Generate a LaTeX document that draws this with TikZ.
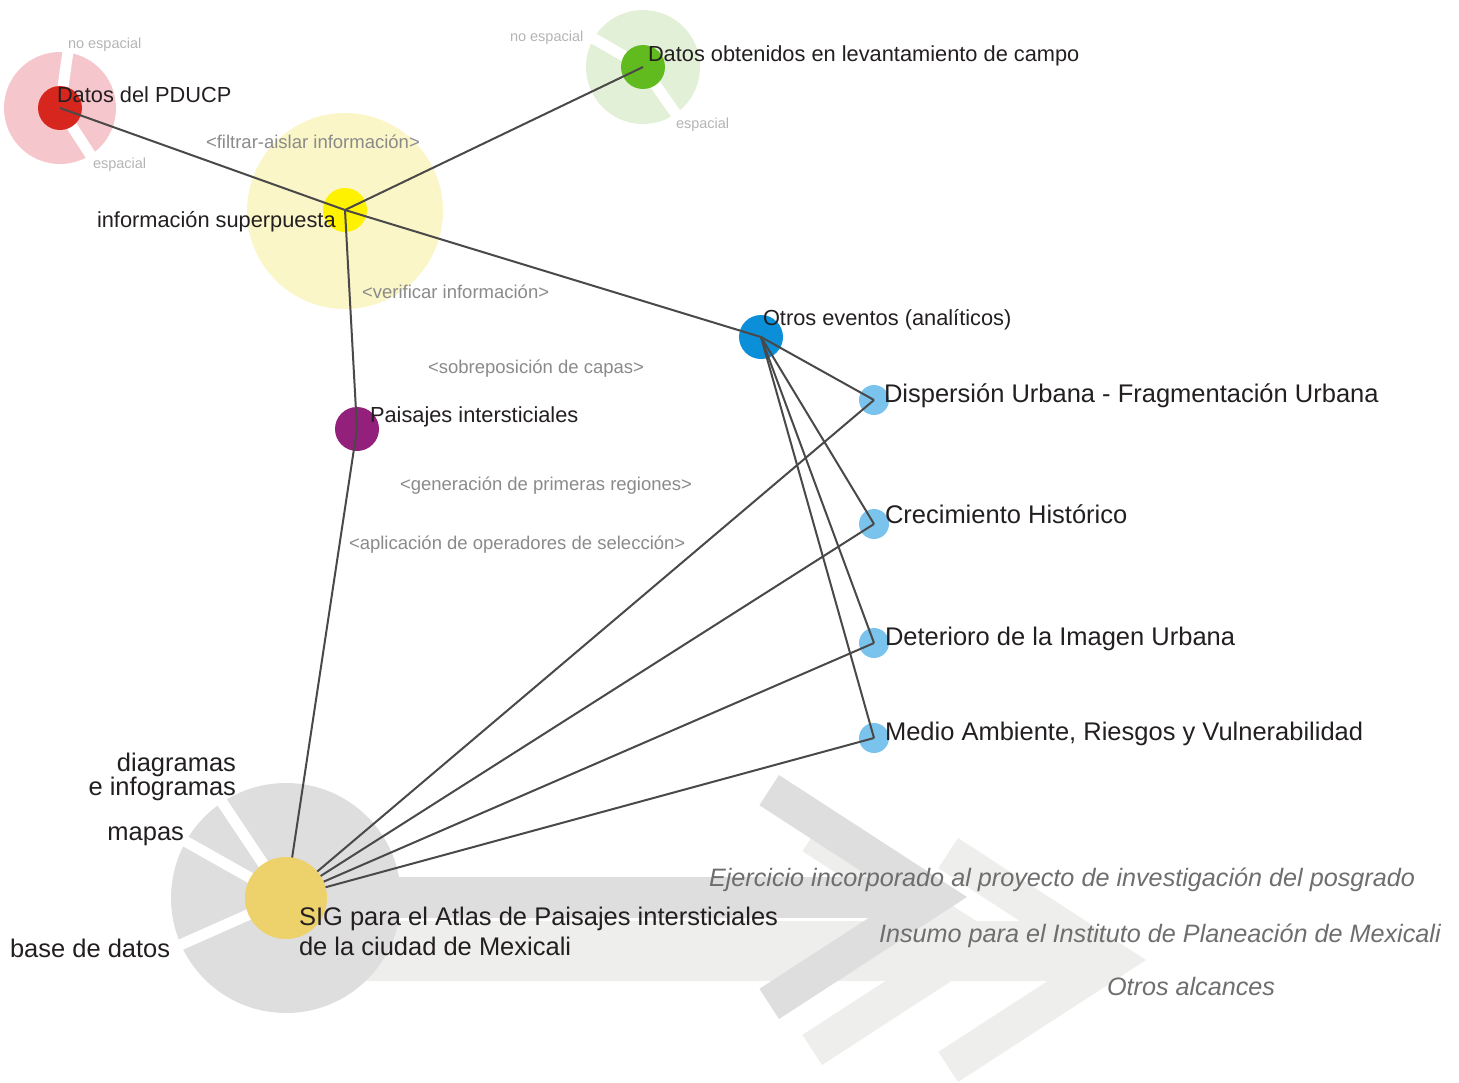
\documentclass[tikz,border=0pt]{standalone}
\usepackage{fontspec}
\setmainfont{Liberation Sans}

\definecolor{ink}{HTML}{231F20}
\definecolor{linkgray}{HTML}{4A4848}
\definecolor{opgray}{HTML}{8A8A8A}
\definecolor{taggray}{HTML}{B4B4B4}
\definecolor{goalgray}{HTML}{6E6E6E}
\definecolor{pducpred}{HTML}{D7261E}
\definecolor{pducpring}{HTML}{F5C6CC}
\definecolor{campogreen}{HTML}{62BB1E}
\definecolor{camporing}{HTML}{E3F0D8}
\definecolor{infoyellow}{HTML}{FFF200}
\definecolor{inforing}{HTML}{FBF6C8}
\definecolor{otrosblue}{HTML}{0A8FD8}
\definecolor{leafblue}{HTML}{7AC3EC}
\definecolor{paisajespurple}{HTML}{93207A}
\definecolor{sigyellow}{HTML}{EDD16B}
\definecolor{sigring}{HTML}{DEDEDE}
\definecolor{band}{HTML}{EEEEEC}

\pgfdeclarelayer{back}
\pgfdeclarelayer{links}
\pgfsetlayers{back,links,main}

% chevron: x of the outer corners, y of the tip, colour
\newcommand{\chevron}[3]{%
  \fill[#3] (#1,#2-122) -- ++(188,122) -- (#1,#2+122) -- ++(-19.6,-30.2)
    -- (#1+122,#2) -- (#1-19.6,#2-91.8) -- cycle;}

\begin{document}
\begin{tikzpicture}[x=1pt,y=-1pt,
  every node/.style={inner sep=0pt,outer sep=0pt},
  every edge/.style={draw=linkgray,line width=2pt},
  hub/.style={circle,minimum size=44pt},
  leaf/.style={circle,fill=leafblue,minimum size=30pt},
  gap/.style={draw=white,line width=11pt},
  hubtext/.style={font=\fontsize{21.8}{24}\selectfont,text=ink,anchor=base west},
  topic/.style={font=\fontsize{25.5}{30}\selectfont,text=ink,anchor=base west},
  oplabel/.style={font=\fontsize{18.5}{22}\selectfont,text=opgray,anchor=base west},
  tag/.style={font=\fontsize{14.5}{17}\selectfont,text=taggray,anchor=base west},
  goal/.style={font=\itshape\fontsize{25.2}{30}\selectfont,text=goalgray,anchor=base west}]

  \useasboundingbox (0,0) rectangle (1459,1082);

  \begin{pgfonlayer}{back}
    % arrows towards the scopes
    \fill[band] (300,921) rectangle (1084,981);
    \chevron{822}{943}{band}
    \chevron{958}{960}{band}
    \fill[sigring] (300,877) rectangle (905,918);
    \chevron{779}{897}{sigring}

    % rings
    \fill[sigring] (286,898) circle (115pt);
    \draw[gap] (286,898) -- (221.6,801.5);
    \draw[gap] (286,898) -- (185,841.1);
    \draw[gap] (286,898) -- (180,945);
    \fill[pducpring] (60,108) circle (56pt);
    \draw[gap] (60,108) -- (68.4,48.6);
    \draw[gap] (60,108) -- (92.7,158.3);
    \fill[camporing] (643,67) circle (57pt);
    \draw[gap] (643,67) -- (591,37);
    \draw[gap] (643,67) -- (677.4,116);
    \fill[inforing] (345,211) circle (98pt);

    \node[hub,fill=pducpred] (pducp) at (60,108) {};
    \node[hub,fill=campogreen] (campo) at (643,67) {};
    \node[hub,fill=infoyellow] (info) at (345,210) {};
    \node[hub,fill=otrosblue] (otros) at (761,337) {};
    \node[hub,fill=paisajespurple] (paisajes) at (357,429) {};
    \node[leaf] (disp) at (874,400) {};
    \node[leaf] (crec) at (874,524) {};
    \node[leaf] (deter) at (874,643) {};
    \node[leaf] (medio) at (874,738) {};
  \end{pgfonlayer}

  \node[hub,minimum size=82pt,fill=sigyellow] (sig) at (286,898) {};

  \begin{pgfonlayer}{links}
    \path (pducp.center) edge (info.center)
          (campo.center) edge (info.center)
          (info.center) edge (otros.center)
          (info.center) edge (paisajes.center)
          (paisajes.center) edge (sig.center)
          (otros.center) edge (disp.center)
          (otros.center) edge (crec.center)
          (otros.center) edge (deter.center)
          (otros.center) edge (medio.center)
          (sig.center) edge (disp.center)
          (sig.center) edge (crec.center)
          (sig.center) edge (deter.center)
          (sig.center) edge (medio.center);
  \end{pgfonlayer}

  % names
  \node[hubtext] (pducp-t) at (57,102) {Datos del PDUCP};
  \node[hubtext] (campo-t) at (648,61) {Datos obtenidos en levantamiento de campo};
  \node[hubtext] (info-t) at (97,227) {información superpuesta};
  \node[hubtext] (otros-t) at (763,325) {Otros eventos (analíticos)};
  \node[hubtext] (paisajes-t) at (370,422) {Paisajes intersticiales};
  \node[topic] (disp-t) at (884,402) {Dispersión Urbana - Fragmentación Urbana};
  \node[topic] (crec-t) at (885,523) {Crecimiento Histórico};
  \node[topic] (deter-t) at (885,645) {Deterioro de la Imagen Urbana};
  \node[topic] (medio-t) at (885,740) {Medio Ambiente, Riesgos y Vulnerabilidad};
  \node[topic,align=left] (sig-t) at (299,955)
    {SIG para el Atlas de Paisajes intersticiales\\de la ciudad de Mexicali};
  \node[topic,anchor=base east,align=right,font=\fontsize{25.5}{24}\selectfont]
    (diag-t) at (236,795) {diagramas\\e infogramas};
  \node[topic,anchor=base east] (mapas-t) at (184,840) {mapas};
  \node[topic] (base-t) at (10,957) {base de datos};

  % operations
  \node[oplabel] (op1) at (206,148) {<filtrar-aislar información>};
  \node[oplabel] (op2) at (362,298) {<verificar información>};
  \node[oplabel] (op3) at (428,373) {<sobreposición de capas>};
  \node[oplabel] (op4) at (400,490) {<generación de primeras regiones>};
  \node[oplabel] (op5) at (349,549) {<aplicación de operadores de selección>};

  % ring parts
  \node[tag] (pducp-no) at (68,48) {no espacial};
  \node[tag] (pducp-si) at (93,168) {espacial};
  \node[tag] (campo-no) at (510,41) {no espacial};
  \node[tag] (campo-si) at (676,128) {espacial};

  % scopes
  \node[goal] (goal1) at (709,886) {Ejercicio incorporado al proyecto de investigación del posgrado};
  \node[goal] (goal2) at (879,942) {Insumo para el Instituto de Planeación de Mexicali};
  \node[goal] (goal3) at (1107,995) {Otros alcances};
\end{tikzpicture}
\end{document}
